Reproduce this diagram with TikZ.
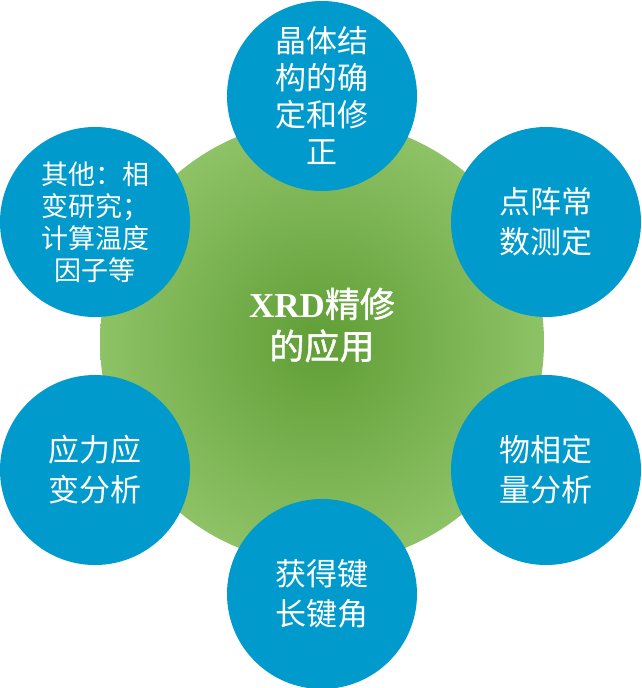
\documentclass[tikz,border=0pt]{standalone}
\usepackage{fontspec}
\setmainfont{Liberation Serif}
\newfontfamily\cjk{Noto Sans CJK SC}
\newfontfamily\cjkhub[FakeBold=1.2]{Noto Sans CJK SC}
\definecolor{leafdark}{RGB}{96,158,54}
\definecolor{leaflight}{RGB}{142,194,102}
\definecolor{seablue}{RGB}{0,154,204}

\begin{document}
\begin{tikzpicture}[x=1pt,y=-1pt]
\tikzset{topic/.style={circle, fill=seablue, minimum size=190pt, inner sep=0pt,
                       text=white, align=center, font=\cjk\fontsize{31}{40}\selectfont},
         hubtext/.style={text=white, align=center, font=\bfseries\fontsize{35}{42}\selectfont}}
\useasboundingbox (0,0) rectangle (641,688);
% centre
\node[circle, minimum size=444pt, inner sep=0pt, inner color=leafdark, outer color=leaflight] (hub) at (322,342) {};
\node[hubtext] (title) at (322,325) {XRD{\cjkhub\mdseries 精修}\\{\cjkhub\mdseries 的应用}};
% six topics round the centre
\node[topic, font=\cjk\fontsize{31}{37}\selectfont] (cryst) at (322,96) {晶体结\\构的确\\定和修\\正};
\node[topic] (lattice) at (546,222) {点阵常\\数测定};
\node[topic] (phase) at (546,470) {物相定\\量分析};
\node[topic] (bond) at (322,594) {获得键\\长键角};
\node[topic] (stress) at (95,470) {应力应\\变分析};
\node[topic, font=\cjk\fontsize{27}{32}\selectfont] (other) at (95,222) {其他：相\\变研究；\\计算温度\\因子等};
\end{tikzpicture}
\end{document}
